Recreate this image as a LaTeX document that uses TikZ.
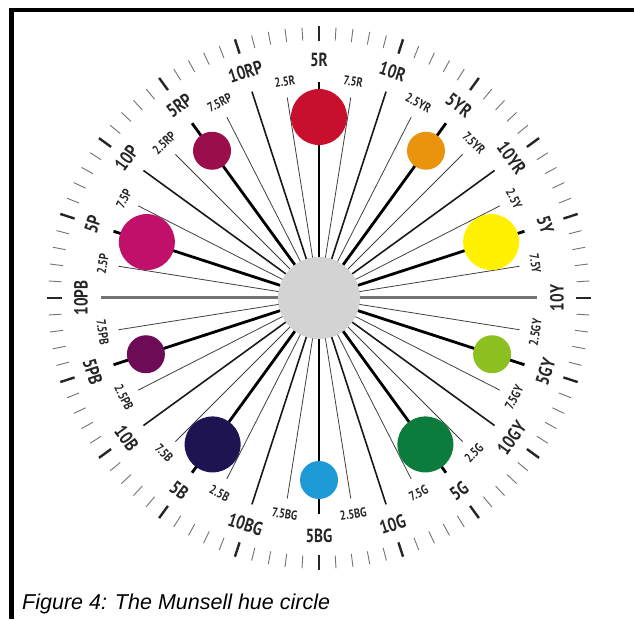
\documentclass[tikz,border=0pt]{standalone}
\usepackage{fontspec}
\setmainfont{Liberation Sans}
\newfontfamily\labfont[FakeStretch=0.8]{PT Sans}
\definecolor{cR}{RGB}{200,16,46}
\definecolor{cYR}{RGB}{234,148,14}
\definecolor{cY}{RGB}{255,241,0}
\definecolor{cGY}{RGB}{140,192,32}
\definecolor{cG}{RGB}{12,124,60}
\definecolor{cBG}{RGB}{30,155,214}
\definecolor{cB}{RGB}{30,20,82}
\definecolor{cPB}{RGB}{110,11,87}
\definecolor{cP}{RGB}{192,16,106}
\definecolor{cRP}{RGB}{154,14,76}
\definecolor{hubgray}{RGB}{211,211,211}
\begin{document}
\begin{tikzpicture}[x=1pt,y=1pt,
  majtick/.style={line width=2.4pt, black!85},
  mintick/.style={line width=0.9pt, black!55},
  fivespoke/.style={line width=2.8pt, black},
  tenspoke/.style={line width=1.6pt, black!90},
  halfspoke/.style={line width=0.8pt, black!75},
  axisspoke/.style={line width=3pt, black!55},
  biglab/.style={font=\labfont\bfseries\fontsize{19}{19}\selectfont, text=black!85, inner sep=0pt},
  smalllab/.style={font=\labfont\bfseries\fontsize{13}{13}\selectfont, text=black!85, inner sep=0pt},
  dot/.style={circle, inner sep=0pt, draw=none},
  bigdot/.style={dot, minimum size=56pt},
  smalldot/.style={dot, minimum size=38pt},
]
\useasboundingbox (0,0) rectangle (634,619);
\fill[white] (0,0) rectangle (634,619);
\draw[line width=4.5pt, line join=miter] (11.5,0) -- (11.5,609) -- (634,609);
\node[anchor=base west, inner sep=0pt, font=\itshape\fontsize{21.5}{21.5}\selectfont] (cap) at (22,10) {Figure 4: The Munsell hue circle};
\coordinate (c) at (319,321);
\begin{scope}[shift={(c)}]
  % tick ring
  \foreach \i in {0,...,99} {
    \pgfmathsetmacro\a{90-3.6*\i}
    \pgfmathtruncatemacro\m{mod(\i,5)}
    \ifnum\m=0
      \draw[majtick] (\a:257) -- (\a:272);
    \else
      \draw[mintick] (\a:258) -- (\a:271);
    \fi
  }
  % spokes
  \foreach \a [count=\k] in {90,54,18,-18,-54,-90,-126,-162,162,126} {
    \coordinate (f\k) at (\a:216);
    \draw[fivespoke] (c) -- (f\k);
  }
  \foreach \a [count=\k] in {72,36,-36,-72,-108,-144,144,108} {
    \coordinate (t\k) at (\a:217);
    \draw[tenspoke] (c) -- (t\k);
  }
  \coordinate (tY) at (0:218);
  \coordinate (tPB) at (180:218);
  \draw[axisspoke] (tPB) -- (tY);
  \foreach \a [count=\k] in {99,81,63,45,27,9,-9,-27,-45,-63,-81,-99,-117,-135,-153,-171,171,153,135,117} {
    \coordinate (h\k) at (\a:203);
    \draw[halfspoke] (c) -- (h\k);
  }
  % hub
  \node[dot, fill=hubgray, minimum size=82pt] (hub) at (0,0) {};
  % colour dots
  \node[bigdot, fill=cR] (dR) at (90:181) {};
  \node[smalldot, fill=cYR] (dYR) at (54:182) {};
  \node[bigdot, fill=cY] (dY) at (18:181) {};
  \node[smalldot, fill=cGY] (dGY) at (-18:182) {};
  \node[bigdot, fill=cG] (dG) at (-54:181) {};
  \node[smalldot, fill=cBG] (dBG) at (-90:182) {};
  \node[bigdot, fill=cB] (dB) at (-126:181) {};
  \node[smalldot, fill=cPB] (dPB) at (-162:182) {};
  \node[bigdot, fill=cP] (dP) at (162:181) {};
  \node[smalldot, fill=cRP] (dRP) at (126:182) {};
  % major labels
  \foreach \a/\t [count=\k] in {90/5R,72/10R,54/5YR,36/10YR,18/5Y,0/10Y,-18/5GY,-36/10GY,-54/5G,-72/10G,-90/5BG,-108/10BG,-126/5B,-144/10B,-162/5PB,180/10PB,162/5P,144/10P,126/5RP,108/10RP} {
    \pgfmathsetmacro\r{(\a>0) ? \a-90 : \a+90}
    \node[biglab, rotate=\r] (L\k) at (\a:238) {\t};
  }
  % minor labels
  \foreach \a/\t [count=\k] in {99/2.5R,81/7.5R,63/2.5YR,45/7.5YR,27/2.5Y,9/7.5Y,-9/2.5GY,-27/7.5GY,-45/2.5G,-63/7.5G,-81/2.5BG,-99/7.5BG,-117/2.5B,-135/7.5B,-153/2.5PB,-171/7.5PB,171/2.5P,153/7.5P,135/2.5RP,117/7.5RP} {
    \pgfmathsetmacro\r{(\a>0) ? \a-90 : \a+90}
    \node[smalllab, rotate=\r] (S\k) at (\a:219) {\t};
  }
\end{scope}
\end{tikzpicture}
\end{document}
